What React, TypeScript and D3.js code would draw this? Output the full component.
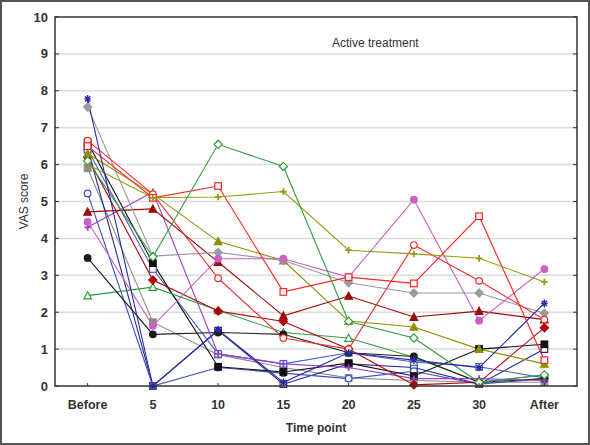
import React from "react";
import * as d3 from "d3";

const categories = ["Before", "5", "10", "15", "20", "25", "30", "After"];
const yTicks = [0, 1, 2, 3, 4, 5, 6, 7, 8, 9, 10];

const blueStar = [7.78, 0, 1.52, 0.1, 0.9, 0.7, 0.5, 2.24];
const grayDiamond = [7.56, 3.52, 3.62, 3.4, 2.8, 2.52, 2.52, 1.97];
const redSquare = [6.5, 5.1, 5.42, 2.55, 2.95, 2.78, 4.6, 0.7];
const redCircle = [6.65, 5.2, 2.92, 1.3, 1.0, 3.82, 2.85, 1.8];
const darkRedTriangle = [4.72, 4.8, 3.36, 1.9, 2.44, 1.87, 2.03, 1.8];
const darkRedDiamond = [6.2, 2.87, 2.03, 1.75, 1.0, 0.03, 0.1, 1.58];
const oliveCross = [6.0, 5.1, 5.12, 5.27, 3.68, 3.58, 3.46, 2.82];
const oliveTriangle = [6.3, 5.2, 3.92, 3.4, 1.76, 1.6, 1.0, 0.6];
const pinkCircle = [4.45, 1.63, 3.45, 3.45, 2.95, 5.05, 1.77, 3.17];
const purpleCross = [4.3, 5.26, 0.87, 0.6, 0.5, 0.2, 0.2, 0.15];
const blackCircle = [3.47, 1.4, 1.45, 1.4, 0.9, 0.8, 0.1, 0.2];
const greenTriangle = [2.45, 2.68, 2.05, 1.45, 1.3, 0.78, 0.1, 0.3];
const greenDiamond = [6.1, 3.5, 6.55, 5.95, 1.75, 1.3, 0.1, 0.3];
const blackSquare = [6.6, 3.33, 0.52, 0.38, 0.62, 0.27, 1.0, 1.13];
const blueSquare = [6.4, 3.17, 0.87, 0.6, 0.9, 0.65, 0.52, 0.22];
const blueCircle = [5.22, 0, 0.5, 0.35, 0.2, 0.4, 0.05, 0.2];
const graySquare = [5.9, 1.73, 0.85, 0.5, 0.22, 0.15, 0.1, 0.1];
const navySquare = [6.45, 0, 1.5, 0.05, 0.6, 0.5, 0.05, 1.0];

type Shape = "star" | "diamond" | "square" | "circle" | "triangle" | "plus";
interface Series { values: number[]; color: string; shape: Shape; filled: boolean }

const series: Series[] = [
  { values: graySquare, color: "#8c8c8c", shape: "square", filled: true },
  { values: navySquare, color: "#2b2b8c", shape: "square", filled: false },
  { values: blueCircle, color: "#3a4fc8", shape: "circle", filled: false },
  { values: blueSquare, color: "#4a5fbf", shape: "square", filled: false },
  { values: blackSquare, color: "#111111", shape: "square", filled: true },
  { values: greenTriangle, color: "#2e9e3a", shape: "triangle", filled: false },
  { values: blackCircle, color: "#1a1a1a", shape: "circle", filled: true },
  { values: purpleCross, color: "#9b3fc4", shape: "plus", filled: true },
  { values: darkRedDiamond, color: "#b00010", shape: "diamond", filled: true },
  { values: oliveTriangle, color: "#8f8f00", shape: "triangle", filled: true },
  { values: darkRedTriangle, color: "#9c0a0a", shape: "triangle", filled: true },
  { values: grayDiamond, color: "#9a9a9a", shape: "diamond", filled: true },
  { values: pinkCircle, color: "#cc5fc4", shape: "circle", filled: true },
  { values: redCircle, color: "#f03030", shape: "circle", filled: false },
  { values: redSquare, color: "#ff2222", shape: "square", filled: false },
  { values: oliveCross, color: "#9a9a10", shape: "plus", filled: true },
  { values: greenDiamond, color: "#2f9e3c", shape: "diamond", filled: false },
  { values: blueStar, color: "#2a2aa8", shape: "star", filled: true },
];

const W = 590, H = 445;
const plot = { left: 55, right: 577, top: 17, bottom: 386 };

function Marker({ x, y, s }: { x: number; y: number; s: Series }) {
  const r = 3.3;
  const fill = s.filled ? s.color : "#fff";
  const common = { stroke: s.color, strokeWidth: 1.2, fill };
  switch (s.shape) {
    case "circle":
      return <circle cx={x} cy={y} r={r} {...common} />;
    case "square":
      return <rect x={x - r} y={y - r} width={2 * r} height={2 * r} {...common} />;
    case "diamond":
      return <path d={`M${x},${y - r - 0.8}L${x + r + 0.8},${y}L${x},${y + r + 0.8}L${x - r - 0.8},${y}Z`} {...common} />;
    case "triangle":
      return <path d={`M${x},${y - r - 0.5}L${x + r + 0.5},${y + r}L${x - r - 0.5},${y + r}Z`} {...common} />;
    case "plus":
      return <path d={`M${x - r},${y}H${x + r}M${x},${y - r}V${y + r}`} stroke={s.color} strokeWidth={1.8} fill="none" />;
    case "star":
      return (
        <path
          d={`M${x - r},${y}H${x + r}M${x},${y - r - 0.5}V${y + r + 0.5}M${x - r * 0.8},${y - r * 0.8}L${x + r * 0.8},${y + r * 0.8}M${x - r * 0.8},${y + r * 0.8}L${x + r * 0.8},${y - r * 0.8}`}
          stroke={s.color}
          strokeWidth={1.4}
          fill="none"
        />
      );
  }
  return null;
}

export default function App() {
  const x = d3.scalePoint<string>().domain(categories).range([plot.left, plot.right]).padding(0.5);
  const y = d3.scaleLinear().domain([0, 10]).range([plot.bottom, plot.top]);
  const line = d3
    .line<number>()
    .x((_, i) => x(categories[i]) as number)
    .y((d) => y(d));
  const font = "'Liberation Sans', Arial, sans-serif";
  return (
    <svg width={W} height={H} style={{ position: "absolute", left: 0, top: 0, background: "#fff" }} fontFamily={font}>
      <rect x={1} y={1} width={W - 2} height={H - 2} fill="#fff" stroke="#555" strokeWidth={2} />
      {yTicks.slice(1, -1).map((t) => (
        <line key={t} x1={plot.left} x2={plot.right} y1={y(t)} y2={y(t)} stroke="#dcdcdc" strokeWidth={1.5} />
      ))}
      {series.map((s, i) => (
        <path key={i} d={line(s.values) || ""} fill="none" stroke={s.color} strokeWidth={1.1} />
      ))}
      {series.map((s, i) => (
        <g key={"m" + i}>
          {s.values.map((v, j) => (
            <Marker key={j} x={x(categories[j]) as number} y={y(v)} s={s} />
          ))}
        </g>
      ))}
      {yTicks.map((t) => (
        <g key={"yt" + t}>
          <line x1={plot.left} x2={plot.left + 4} y1={y(t)} y2={y(t)} stroke="#333" strokeWidth={1} />
          <line x1={plot.right - 4} x2={plot.right} y1={y(t)} y2={y(t)} stroke="#333" strokeWidth={1} />
          <text x={plot.left - 7} y={y(t) + 4.5} textAnchor="end" fontSize={13} fill="#333" fontWeight="bold">
            {t}
          </text>
        </g>
      ))}
      {categories.map((c) => (
        <g key={"xt" + c}>
          <line x1={x(c)} x2={x(c)} y1={plot.bottom} y2={plot.bottom - 3} stroke="#333" strokeWidth={1} />
          <text x={x(c)} y={plot.bottom + 23} textAnchor="middle" fontSize={12.5} fill="#333" fontWeight="bold">
            {c}
          </text>
        </g>
      ))}
      <rect
        x={plot.left}
        y={plot.top}
        width={plot.right - plot.left}
        height={plot.bottom - plot.top}
        fill="none"
        stroke="#333"
        strokeWidth={1.5}
      />
      <text x={(plot.left + plot.right) / 2} y={432} textAnchor="middle" fontSize={12} fill="#333" fontWeight="bold">
        Time point
      </text>
      <text
        transform={`translate(28,${(plot.top + plot.bottom) / 2}) rotate(-90)`}
        textAnchor="middle"
        fontSize={12}
        fill="#333"
      >
        VAS score
      </text>
      <text x={332} y={47} fontSize={12} fill="#333">
        Active treatment
      </text>
    </svg>
  );
}
